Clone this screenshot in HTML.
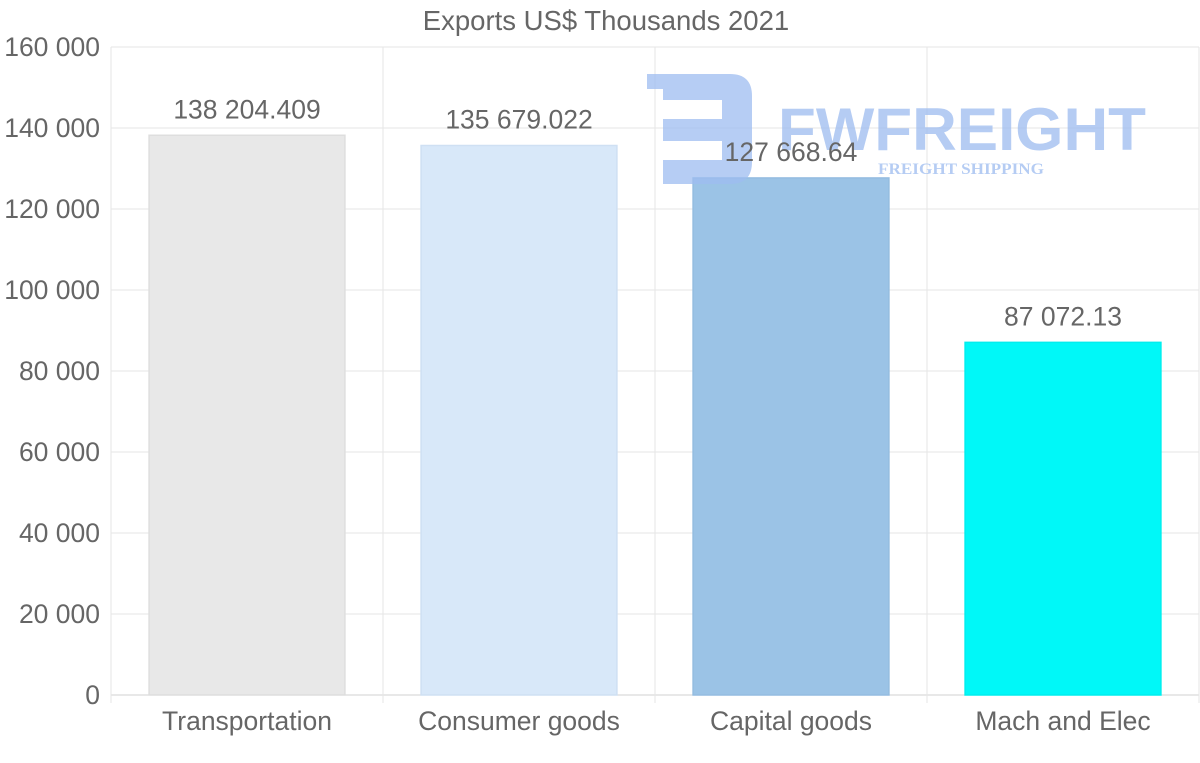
<!DOCTYPE html>
<html><head><meta charset="utf-8"><style>
html,body{margin:0;padding:0;background:#fff;}
svg{display:block;font-family:"Liberation Sans",Arial,sans-serif;}
</style></head><body>
<svg id="chart" width="1200" height="763" viewBox="0 0 1200 763"></svg>
<script>
const categories=["Transportation","Consumer goods","Capital goods","Mach and Elec"];
const values=[138204.409,135679.022,127668.64,87072.13];
const valueLabels=["138 204.409","135 679.022","127 668.64","87 072.13"];
const yTicks=[0,20000,40000,60000,80000,100000,120000,140000,160000];
const yTickLabels=["0","20 000","40 000","60 000","80 000","100 000","120 000","140 000","160 000"];
const colors=["#e8e8e8","#d8e8f9","#9bc3e6","#00f8f8"];
const borders=["#dedede","#cfe0f3","#94bce0","#00eeee"];
const NS="http://www.w3.org/2000/svg";
const svg=document.getElementById('chart');
const L=111,R=1199,T=47,B=695,ymax=160000;
const FS=26.5;
const y=v=>B-(v/ymax)*(B-T);
const bw=(R-L)/categories.length;
const xc=i=>L+bw*(i+0.5);
function mk(tag,attrs,parent){const e=document.createElementNS(NS,tag);for(const k in attrs)e.setAttribute(k,attrs[k]);(parent||svg).appendChild(e);return e;}
const t=mk('text',{x:606,y:30,'text-anchor':'middle','font-size':27.5,fill:'#666'});


t.textContent="Exports US$ Thousands 2021";
yTicks.forEach((v,i)=>{
  const g=mk('line',{x1:L,x2:R,y1:y(v),y2:y(v),stroke:i===0?'#d0d0d0':'#e6e6e6','stroke-width':1});
  
  
  const lb=mk('text',{x:100,y:y(v)+9,'text-anchor':'end','font-size':FS,fill:'#666'});
  
  
  lb.textContent=yTickLabels[i];
});
for(let i=0;i<=categories.length;i++){
  const x=L+bw*i;
  const g=mk('line',{x1:x,x2:x,y1:T,y2:B+8,stroke:'#e6e6e6','stroke-width':1});
  
  
}
values.forEach((v,i)=>{
  const w=bw*0.72;
  const r=mk('rect',{x:xc(i)-w/2,y:y(v),width:w,height:B-y(v),fill:colors[i],stroke:borders[i],'stroke-width':1.5});
  
  
  const xl=mk('text',{x:xc(i),y:730,'text-anchor':'middle','font-size':FS,fill:'#666'});
  
  
  xl.textContent=categories[i];
});
const lg=mk('g',{opacity:0.75});


mk('path',{d:'M647 74 H730 Q752 74 752 96 V162 Q752 184 730 184 H663 V160 H722 V141 H663 V119 H722 V100 H663 V89 H647 Z',fill:'#9dbcf0'},lg);
const lt=mk('text',{x:778,y:150,'font-size':60,'font-weight':'bold',fill:'#9dbcf0',textLength:368,lengthAdjust:'spacingAndGlyphs'},lg);
lt.textContent="FWFREIGHT";
const ls=mk('text',{x:878,y:174,'font-size':16,'font-weight':'bold','font-family':'Liberation Serif,serif',fill:'#9dbcf0',textLength:166,lengthAdjust:'spacingAndGlyphs'},lg);
ls.textContent="FREIGHT SHIPPING";
values.forEach((v,i)=>{
  const vl=mk('text',{x:xc(i),y:y(v)-17,'text-anchor':'middle','font-size':FS,fill:'#666'});
  
  
  vl.textContent=valueLabels[i];
});
</script>
</body></html>
